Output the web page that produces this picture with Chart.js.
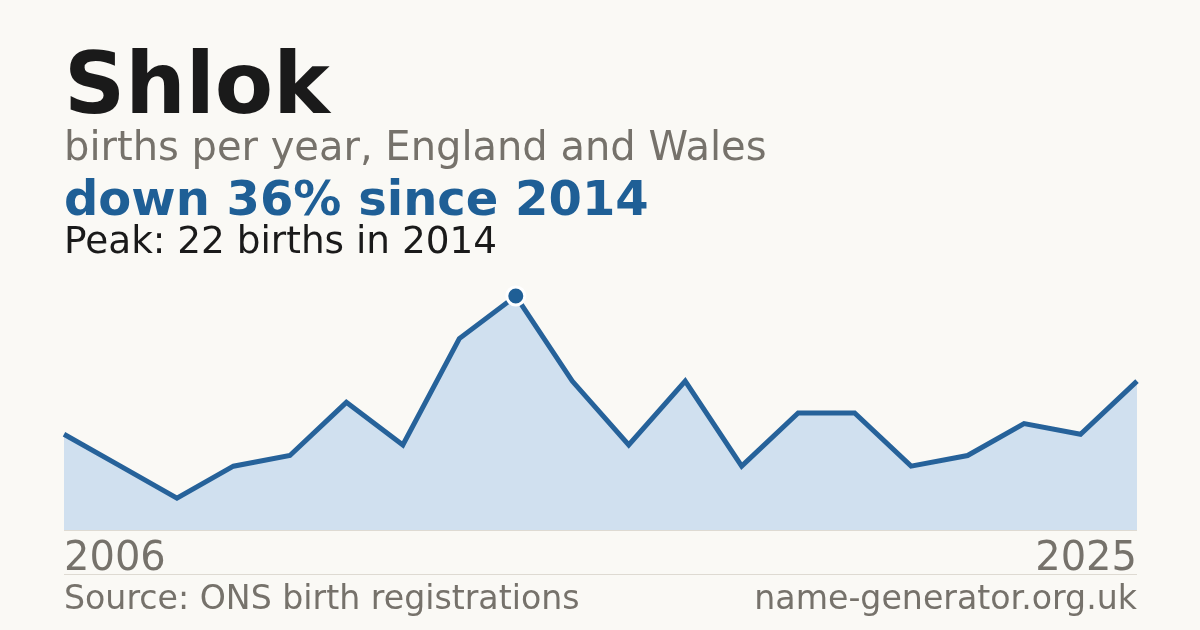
<!DOCTYPE html>
<html>
<head>
<meta charset="utf-8">
<script src="https://cdn.jsdelivr.net/npm/chart.js@4"></script>
<style>
  html, body { margin: 0; padding: 0; }
  body {
    width: 1200px; height: 630px; overflow: hidden;
    background: #faf9f5; position: relative;
    font-family: "DejaVu Sans", sans-serif;
  }
  .t { position: absolute; left: 64px; line-height: 1; white-space: nowrap; }
  #title { top: 41px; font-size: 85px; font-weight: bold; color: #1a1a1a; }
  #sub { top: 126px; font-size: 40px; color: #76726b; }
  #change { top: 174px; font-size: 48px; font-weight: bold; color: #1f5f96; }
  #peak { top: 222px; font-size: 37.4px; color: #1a1a1a; }
  .yr { top: 536px; font-size: 40px; color: #76726b; }
  #yrEnd { left: auto; right: 63px; }
  .foot { top: 581px; font-size: 33.2px; color: #76726b; }
  #site { left: auto; right: 63px; }
  .rule { position: absolute; left: 64px; width: 1073px; height: 1px; background: #dedad2; }
  #wrap { position: absolute; left: 0; top: 0; width: 1200px; height: 630px; }
</style>
</head>
<body>
<div id="wrap"><canvas id="chart" width="1200" height="630"></canvas></div>
<div class="rule" style="top:574px"></div>
<div class="t" id="title">Shlok</div>
<div class="t" id="sub">births per year, England and Wales</div>
<div class="t" id="change">down 36% since 2014</div>
<div class="t" id="peak">Peak: 22 births in 2014</div>
<div class="t yr" id="yrStart"></div>
<div class="t yr" id="yrEnd"></div>
<div class="t foot">Source: ONS birth registrations</div>
<div class="t foot" id="site">name-generator.org.uk</div>
<script>
const years = [2006, 2007, 2008, 2009, 2010, 2011, 2012, 2013, 2014, 2015,
               2016, 2017, 2018, 2019, 2020, 2021, 2022, 2023, 2024, 2025];
const births = [9, 6, 3, 6, 7, 12, 8, 18, 22, 14,
                8, 14, 6, 11, 11, 6, 7, 10, 9, 14];

document.getElementById('yrStart').textContent = years[0];
document.getElementById('yrEnd').textContent = years[years.length - 1];

const peakIdx = births.indexOf(Math.max(...births));

const ctx = document.getElementById('chart').getContext('2d');
new Chart(ctx, {
  type: 'line',
  data: {
    labels: years,
    datasets: [{
      data: births,
      borderColor: '#26629a',
      borderWidth: 5,
      borderJoinStyle: 'miter',
      backgroundColor: '#d0e0ef',
      fill: 'origin',
      tension: 0,
      clip: false,
      pointRadius: births.map((_, i) => i === peakIdx ? 9 : 0),
      pointBackgroundColor: '#1f5f96',
      pointBorderColor: '#ffffff',
      pointBorderWidth: 3,
      pointHoverRadius: 0
    }]
  },
  options: {
    responsive: false,
    animation: false,
    devicePixelRatio: 1,
    layout: { padding: { left: 64, right: 63, top: 296, bottom: 100 } },
    plugins: { legend: { display: false }, tooltip: { enabled: false } },
    scales: {
      x: { display: false, offset: false },
      y: { display: false, min: 0, max: 22 }
    }
  }
});
</script>
<div class="rule" style="top:530px"></div>
</body>
</html>
